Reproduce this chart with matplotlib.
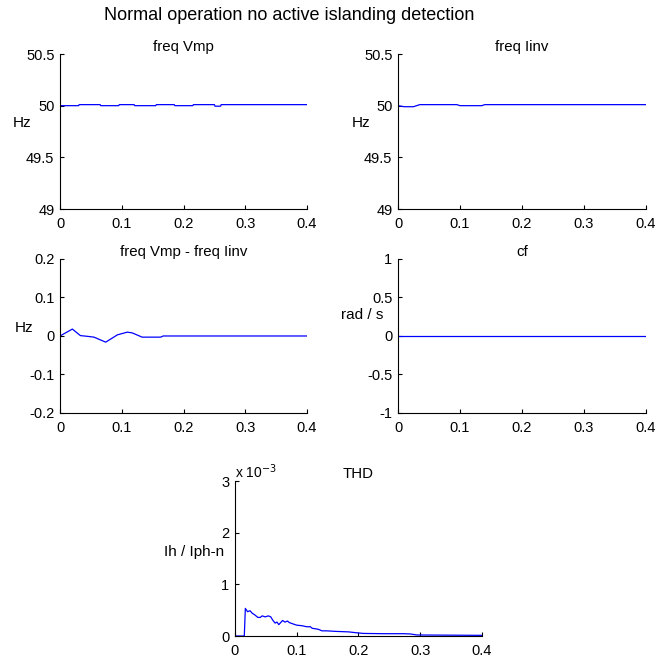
import numpy as np
import matplotlib.pyplot as plt
from matplotlib.ticker import FuncFormatter

plt.rcParams['font.family'] = ['Liberation Sans', 'DejaVu Sans']
plt.rcParams['font.size'] = 10

# frequency of the PCC voltage (Hz)
t_vmp = [0, 0.03, 0.031, 0.065, 0.066, 0.095, 0.096, 0.12, 0.121, 0.155, 0.156,
         0.185, 0.186, 0.215, 0.216, 0.25, 0.251, 0.26, 0.261, 0.4]
f_vmp = [50.0, 50.0, 50.01, 50.01, 50.0, 50.0, 50.01, 50.01, 50.0, 50.0, 50.01,
         50.01, 50.0, 50.0, 50.01, 50.01, 49.995, 49.995, 50.01, 50.01]

# frequency of the inverter current (Hz)
t_iinv = [0, 0.005, 0.01, 0.025, 0.03, 0.035, 0.095, 0.1, 0.135, 0.14, 0.4]
f_iinv = [50.0, 49.995, 49.99, 49.99, 50.0, 50.01, 50.01, 50.0, 50.0, 50.01, 50.01]

# difference between the two (Hz)
t_diff = [0, 0.020, 0.033, 0.045, 0.055, 0.074, 0.093, 0.109, 0.117, 0.133, 0.163, 0.167, 0.4]
f_diff = [0, 0.018, 0.001, -0.001, -0.003, -0.016, 0.003, 0.010, 0.008, -0.003, -0.003, 0, 0]

# cf (rad/s)
t_cf = [0, 0.4]
cf = [0, 0]

# THD of the inverter current (x 1e-3)
t_thd = [0, 0.0151, 0.0168, 0.0205, 0.0243, 0.028, 0.032, 0.037, 0.041, 0.044,
         0.049, 0.054, 0.058, 0.061, 0.065, 0.068, 0.071, 0.074, 0.077, 0.081,
         0.085, 0.088, 0.095, 0.1, 0.108, 0.116, 0.122, 0.125, 0.135, 0.141,
         0.149, 0.162, 0.184, 0.195, 0.208, 0.2405, 0.2730, 0.2838, 0.2946, 0.4]
thd_e3 = [0, 0, 0.535, 0.47, 0.49, 0.44, 0.41, 0.36, 0.36, 0.39,
          0.37, 0.39, 0.37, 0.31, 0.25, 0.27, 0.22, 0.26, 0.30, 0.27,
          0.29, 0.26, 0.23, 0.21, 0.20, 0.18, 0.18, 0.15, 0.13, 0.10,
          0.10, 0.09, 0.08, 0.065, 0.05, 0.045, 0.045, 0.04, 0.02, 0.013]
thd = [v * 1e-3 for v in thd_e3]

fig = plt.figure(figsize=(6.58, 6.61), dpi=100)

def style(ax, ylim, yticks, title, ylabel, lpos):
    ax.set_xlim(0, 0.4)
    ax.set_ylim(*ylim)
    ax.set_xticks([0, 0.1, 0.2, 0.3, 0.4])
    ax.set_xticklabels(['0', '0.1', '0.2', '0.3', '0.4'])
    ax.set_yticks(yticks)
    for s in ['top', 'right']:
        ax.spines[s].set_visible(False)
    for s in ['left', 'bottom']:
        ax.spines[s].set_linewidth(0.8)
    ax.tick_params(direction='in', length=3, width=0.8, labelsize=10.5, pad=4)
    ax.tick_params(axis='x', pad=6)
    ax.set_title(title, fontsize=10.8, pad=-3)
    ax.set_ylabel(ylabel, rotation=0, fontsize=11, ha='center', va='center')
    ax.yaxis.set_label_coords(*lpos)

ax1 = fig.add_axes([0.0912, 0.6838, 0.3754, 0.2345])
ax1.plot(t_vmp, f_vmp, color='blue', lw=0.9)
style(ax1, (49, 50.5), [49, 49.5, 50, 50.5], 'freq Vmp', 'Hz', (-0.154, 0.555))
ax1.set_yticklabels(['49', '49.5', '50', '50.5'])

ax2 = fig.add_axes([0.6049, 0.6838, 0.3769, 0.2345])
ax2.plot(t_iinv, f_iinv, color='blue', lw=0.9)
style(ax2, (49, 50.5), [49, 49.5, 50, 50.5], 'freq Iinv', 'Hz', (-0.149, 0.555))
ax2.set_yticklabels(['49', '49.5', '50', '50.5'])

ax3 = fig.add_axes([0.0912, 0.3752, 0.3754, 0.233])
ax3.plot(t_diff, f_diff, color='blue', lw=0.9)
style(ax3, (-0.2, 0.2), [-0.2, -0.1, 0, 0.1, 0.2], 'freq Vmp - freq Iinv', 'Hz', (-0.146, 0.552))
ax3.set_yticklabels(['-0.2', '-0.1', '0', '0.1', '0.2'])

ax4 = fig.add_axes([0.6049, 0.3752, 0.3769, 0.233])
ax4.plot(t_cf, cf, color='blue', lw=0.9)
style(ax4, (-1, 1), [-1, -0.5, 0, 0.5, 1], 'cf', 'rad / s', (-0.145, 0.636))
ax4.set_yticklabels(['-1', '-0.5', '0', '0.5', '1'])

ax5 = fig.add_axes([0.3571, 0.0378, 0.3754, 0.2345])
ax5.plot(t_thd, thd, color='blue', lw=0.9)
style(ax5, (0, 0.003), [0, 0.001, 0.002, 0.003], 'THD', 'Ih / Iph-n', (-0.166, 0.54))
ax5.yaxis.set_major_formatter(FuncFormatter(lambda v, p: f"{v * 1e3:g}"))
ax5.text(0.0, 1.0, r'x 10$^{-3}$', transform=ax5.transAxes, ha='left', va='bottom', fontsize=10)

fig.text(0.44, 0.977, 'Normal operation no active islanding detection', ha='center', va='center', fontsize=13)

fig.savefig('out.png', dpi=100)
